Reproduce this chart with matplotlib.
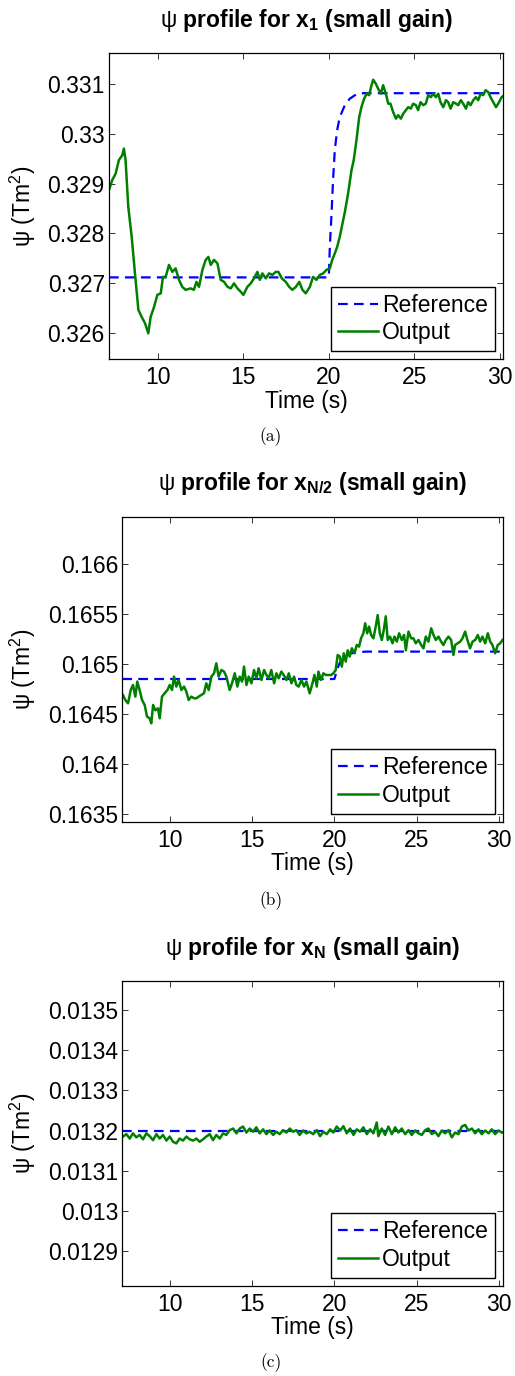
import matplotlib
matplotlib.use("Agg")
import matplotlib.pyplot as plt

plt.rcParams['font.family'] = ['Liberation Sans', 'DejaVu Sans']
plt.rcParams['mathtext.fontset'] = 'custom'
plt.rcParams['mathtext.rm'] = 'Liberation Sans'
plt.rcParams['mathtext.bf'] = 'Liberation Sans:bold'
plt.rcParams['mathtext.it'] = 'Liberation Sans:italic'
plt.rcParams['mathtext.default'] = 'rm'
plt.rcParams['lines.scale_dashes'] = False

# ---------------- data ----------------
xticks = [10, 15, 20, 25, 30]
xtick_labels = ["10", "15", "20", "25", "30"]

# panel (a): x_1
a_ref_t = [7.13, 20.0, 20.06, 20.16, 20.25, 20.35, 20.49, 20.64, 20.94, 21.23, 21.62, 22.01, 30.2]
a_ref_v = [0.32712, 0.32712, 0.32773, 0.3284, 0.32907, 0.32967, 0.33007, 0.33033, 0.33057, 0.3307,
           0.33079, 0.33081, 0.33081]
a_out_t = [7.13, 7.32, 7.52, 7.71, 7.91, 8.0, 8.1, 8.26, 8.46, 8.65,
           8.85, 9.04, 9.24, 9.43, 9.57, 9.77, 9.96, 10.16, 10.29, 10.45,
           10.64, 10.84, 11.03, 11.23, 11.42, 11.62, 11.91, 12.1, 12.25, 12.4,
           12.6, 12.79, 12.95, 13.09, 13.28, 13.48, 13.67, 13.87, 14.07, 14.26,
           14.45, 14.65, 14.85, 15.0, 15.23, 15.43, 15.62, 15.82, 15.96, 16.11,
           16.31, 16.5, 16.7, 16.89, 17.05, 17.25, 17.48, 17.68, 17.87, 18.07,
           18.27, 18.46, 18.65, 18.89, 19.08, 19.28, 19.47, 19.67, 19.86, 20.06,
           20.2, 20.35, 20.49, 20.64, 20.8, 20.94, 21.13, 21.33, 21.46, 21.62,
           21.78, 21.91, 22.07, 22.21, 22.36, 22.5, 22.6, 22.75, 22.89, 23.05,
           23.18, 23.34, 23.48, 23.61, 23.77, 23.93, 24.06, 24.22, 24.36, 24.51,
           24.65, 24.8, 24.94, 25.1, 25.23, 25.37, 25.53, 25.68, 25.82, 25.98,
           26.11, 26.27, 26.41, 26.54, 26.7, 26.86, 26.99, 27.13, 27.29, 27.45,
           27.58, 27.73, 27.87, 28.03, 28.16, 28.3, 28.46, 28.61, 28.75, 28.89,
           29.04, 29.18, 29.34, 29.47, 29.63, 29.79, 29.92, 30.12, 30.2]
a_out_v = [0.32887, 0.32907, 0.3292, 0.32947, 0.32957, 0.3297, 0.32947, 0.32853, 0.32793, 0.3272,
           0.32647, 0.32633, 0.3262, 0.326, 0.32633, 0.32653, 0.32677, 0.3268, 0.32713, 0.32713,
           0.32737, 0.32723, 0.3273, 0.32707, 0.32693, 0.32687, 0.3269, 0.32687, 0.32703, 0.32693,
           0.32727, 0.32747, 0.32753, 0.32737, 0.32747, 0.3274, 0.32707, 0.32703, 0.32693, 0.3269,
           0.327, 0.3269, 0.32683, 0.32677, 0.32693, 0.327, 0.3271, 0.32723, 0.32707, 0.3272,
           0.3271, 0.3272, 0.32717, 0.32723, 0.32723, 0.3271, 0.32703, 0.32693, 0.32687, 0.32693,
           0.32703, 0.32687, 0.3268, 0.32693, 0.32713, 0.32707, 0.32717, 0.3272, 0.32727, 0.3273,
           0.32747, 0.3276, 0.32773, 0.32793, 0.3282, 0.32843, 0.3288, 0.32927, 0.32947, 0.32987,
           0.33033, 0.33053, 0.3307, 0.3308, 0.33077, 0.33097, 0.33108, 0.331, 0.3309, 0.3308,
           0.33097, 0.3308, 0.3306, 0.3306, 0.33043, 0.3303, 0.33037, 0.3303, 0.3304, 0.33047,
           0.33053, 0.3305, 0.3306, 0.33057, 0.33047, 0.33063, 0.33057, 0.3306, 0.33077, 0.33073,
           0.3308, 0.33073, 0.3308, 0.33063, 0.33053, 0.33067, 0.33063, 0.3305, 0.33063, 0.3306,
           0.33057, 0.33067, 0.3306, 0.3305, 0.33063, 0.33057, 0.33067, 0.33073, 0.33067, 0.3308,
           0.33077, 0.33087, 0.33083, 0.33073, 0.33063, 0.33053, 0.3306, 0.33073, 0.33075]
a_yticks = [0.326, 0.327, 0.328, 0.329, 0.330, 0.331]
a_ytick_labels = ["0.326", "0.327", "0.328", "0.329", "0.33", "0.331"]

# panel (b): x_{N/2}
b_ref_t = [7.12, 20.0, 20.1, 20.2, 20.3, 20.45, 20.6, 20.8, 21.0, 21.3, 21.6, 22.0, 30.24]
b_ref_v = [0.164853, 0.164853, 0.164908, 0.164963, 0.165006, 0.165045, 0.165072, 0.165094,
           0.165108, 0.165119, 0.165124, 0.165127, 0.165127]
b_out_t = [7.16, 7.30, 7.47, 7.63, 7.77, 7.91, 8.03, 8.17, 8.32, 8.48,
           8.62, 8.78, 8.88, 8.99, 9.13, 9.29, 9.39, 9.53, 9.69, 9.86,
           10.0, 10.14, 10.26, 10.4, 10.54, 10.71, 10.87, 11.01, 11.15, 11.31,
           11.48, 11.62, 11.76, 11.92, 12.08, 12.22, 12.37, 12.53, 12.69, 12.83,
           12.97, 13.14, 13.3, 13.44, 13.64, 13.78, 13.95, 14.11, 14.25, 14.39,
           14.51, 14.66, 14.8, 14.96, 15.12, 15.26, 15.4, 15.57, 15.73, 15.87,
           16.01, 16.17, 16.34, 16.48, 16.62, 16.78, 16.92, 17.09, 17.23, 17.39,
           17.55, 17.69, 17.83, 18.0, 18.16, 18.3, 18.5, 18.64,
           18.79, 18.93, 19.03, 19.19, 19.33, 19.48, 19.64, 19.8, 19.94, 20.08,
           20.2, 20.33, 20.45, 20.57, 20.69, 20.81, 20.93, 21.06, 21.22, 21.36,
           21.5, 21.62, 21.76, 21.87, 21.99, 22.11, 22.23, 22.37, 22.51, 22.63,
           22.76, 22.88, 23.0, 23.12, 23.24, 23.38, 23.53, 23.65, 23.79, 23.93,
           24.09, 24.23, 24.34, 24.5, 24.66, 24.8, 24.94, 25.11, 25.27, 25.41,
           25.55, 25.71, 25.88, 26.02, 26.16, 26.32, 26.48, 26.62, 26.77, 26.93,
           27.09, 27.23, 27.33, 27.49, 27.64, 27.78, 27.94, 28.08, 28.24, 28.39,
           28.55, 28.71, 28.85, 28.99, 29.16, 29.32, 29.46, 29.6, 29.76, 29.92,
           30.07, 30.21]
b_out_v = [0.164693, 0.164643, 0.16461, 0.164743, 0.164793, 0.164677, 0.164827, 0.164743, 0.164643, 0.164593,
           0.164477, 0.16446, 0.16441, 0.164593, 0.16454, 0.16456, 0.16446, 0.164677, 0.16471, 0.164743,
           0.164793, 0.164743, 0.164877, 0.164777, 0.164843, 0.164743, 0.164777, 0.164727, 0.164643, 0.164677,
           0.16466, 0.16466, 0.164677, 0.164693, 0.16471, 0.16481, 0.164743, 0.164877, 0.16491, 0.16501,
           0.164877, 0.164943, 0.164927, 0.164877, 0.164743, 0.16481, 0.16491, 0.164777, 0.164877, 0.164827,
           0.164977, 0.164793, 0.164877, 0.16481, 0.164943, 0.16486, 0.16496, 0.164843, 0.164943, 0.164893,
           0.16486, 0.164943, 0.16481, 0.16491, 0.16486, 0.164927, 0.164893, 0.164843, 0.16491, 0.16481,
           0.164877, 0.164793, 0.164777, 0.164843, 0.164777, 0.164827, 0.16471, 0.164793,
           0.164893, 0.164777, 0.164927, 0.164843, 0.16491, 0.164893, 0.164893, 0.164893, 0.16491, 0.164943,
           0.165093, 0.165077, 0.164977, 0.16511, 0.165027, 0.16514, 0.165077, 0.16516, 0.16511, 0.165193,
           0.165177, 0.16526, 0.16531, 0.16541, 0.16531, 0.165377, 0.165293, 0.16526, 0.165377, 0.165493,
           0.16531, 0.165243, 0.165343, 0.16548, 0.165243, 0.165277, 0.16521, 0.165277, 0.165227, 0.16531,
           0.165243, 0.165293, 0.16514, 0.165327, 0.16526, 0.16526, 0.16521, 0.165243, 0.165193, 0.16516,
           0.165277, 0.165227, 0.16536, 0.165293, 0.165243, 0.165277, 0.165227, 0.165193, 0.165243, 0.165277,
           0.165243, 0.165093, 0.165193, 0.16521, 0.165227, 0.16526, 0.165327, 0.165243, 0.16516, 0.165227,
           0.165243, 0.165293, 0.165227, 0.165277, 0.16521, 0.16531, 0.165227, 0.165193, 0.16511, 0.165193,
           0.16521, 0.165243]
b_yticks = [0.1635, 0.164, 0.1645, 0.165, 0.1655, 0.166]
b_ytick_labels = ["0.1635", "0.164", "0.1645", "0.165", "0.1655", "0.166"]

# panel (c): x_N
c_ref_t = [7.12, 30.24]
c_ref_v = [0.0132, 0.0132]
c_out_t = [7.16, 7.37, 7.57, 7.77, 7.97, 8.17, 8.38, 8.58, 8.78, 8.99,
           9.19, 9.39, 9.59, 9.8, 10.0, 10.2, 10.4, 10.6, 10.81, 11.01,
           11.21, 11.42, 11.62, 11.82, 12.02, 12.22, 12.43, 12.63, 12.83, 13.04,
           13.24, 13.44, 13.64, 13.85, 14.05, 14.25, 14.45, 14.66, 14.86, 15.06,
           15.26, 15.46, 15.67, 15.87, 16.07, 16.28, 16.48, 16.68, 16.88, 17.09,
           17.29, 17.49, 17.69, 17.89, 18.1, 18.3, 18.5, 18.71,
           18.93, 19.13, 19.33, 19.54, 19.74, 19.94, 20.14, 20.35, 20.55, 20.75,
           20.95, 21.16, 21.36, 21.56, 21.76, 21.97, 22.17, 22.37, 22.57, 22.67,
           22.88, 23.08, 23.28, 23.49, 23.69, 23.89, 24.09, 24.3, 24.5, 24.7,
           24.9, 25.11, 25.31, 25.51, 25.71, 25.92, 26.12, 26.32, 26.52, 26.73,
           26.93, 27.13, 27.33, 27.54, 27.74, 27.94, 28.14, 28.35, 28.55, 28.75,
           28.95, 29.16, 29.36, 29.56, 29.76, 29.97, 30.17]
c_out_v = [0.013185, 0.013191, 0.01318, 0.013193, 0.013183, 0.013189, 0.013178, 0.013193, 0.013186, 0.013176,
           0.013191, 0.01318, 0.013189, 0.013175, 0.013185, 0.013172, 0.013168, 0.01318, 0.013175, 0.013185,
           0.013178, 0.013175, 0.01318, 0.013172, 0.013178, 0.013185, 0.013191, 0.013176, 0.013189, 0.01318,
           0.013193, 0.013189, 0.013201, 0.013205, 0.013193, 0.013205, 0.01321, 0.013195, 0.013205, 0.013197,
           0.013208, 0.013193, 0.013203, 0.013191, 0.0132, 0.013189, 0.013197, 0.013191, 0.013201, 0.013195,
           0.013205, 0.013197, 0.013201, 0.013189, 0.0132, 0.013193, 0.013197, 0.013191,
           0.013201, 0.013186, 0.013197, 0.013191, 0.013203, 0.013195, 0.01321, 0.0132, 0.013211, 0.013193,
           0.013205, 0.013189, 0.013203, 0.013197, 0.013208, 0.013191, 0.013203, 0.013193, 0.01322, 0.013186,
           0.013205, 0.013189, 0.01321, 0.013191, 0.013208, 0.013195, 0.013205, 0.013191, 0.013201, 0.013189,
           0.0132, 0.013193, 0.013189, 0.013201, 0.013205, 0.013191, 0.013197, 0.013186, 0.0132, 0.013193,
           0.013201, 0.013183, 0.013195, 0.013191, 0.01321, 0.013214, 0.0132, 0.013205, 0.013193, 0.013203,
           0.013191, 0.0132, 0.013193, 0.013203, 0.013191, 0.0132, 0.013195]
c_yticks = [0.0129, 0.0130, 0.0131, 0.0132, 0.0133, 0.0134, 0.0135]
c_ytick_labels = ["0.0129", "0.013", "0.0131", "0.0132", "0.0133", "0.0134", "0.0135"]

titles = [r"$\psi$ profile for x$_{\mathbf{1}}$ (small gain)",
          r"$\psi$ profile for x$_{\mathbf{N/2}}$ (small gain)",
          r"$\psi$ profile for x$_{\mathbf{N}}$ (small gain)"]
captions = ["(a)", "(b)", "(c)"]
legend_labels = ["Reference", "Output"]

# ---------------- layout ----------------
W, H = 515, 1376
fig = plt.figure(figsize=(W / 100, H / 100), dpi=100)

def px_axes(l, r, t, b):
    return fig.add_axes([l / W, 1 - b / H, (r - l) / W, (b - t) / H])

panels = [
    dict(box=(109, 503, 53, 359), xlim=(7.13, 30.2), ylim=(0.325485, 0.331615),
         ref=(a_ref_t, a_ref_v), out=(a_out_t, a_out_v), yt=a_yticks, ytl=a_ytick_labels,
         ylab_x=-0.180, cap_y=437),
    dict(box=(122.3, 503, 516.7, 821.7), xlim=(7.12, 30.24), ylim=(0.163426, 0.166476),
         ref=(b_ref_t, b_ref_v), out=(b_out_t, b_out_v), yt=b_yticks, ytl=b_ytick_labels,
         ylab_x=-0.221, cap_y=901),
    dict(box=(122.3, 503, 981, 1285.7), xlim=(7.12, 30.24), ylim=(0.012813, 0.013573),
         ref=(c_ref_t, c_ref_v), out=(c_out_t, c_out_v), yt=c_yticks, ytl=c_ytick_labels,
         ylab_x=-0.221, cap_y=1363),
]

FS = 16.5
for i, p in enumerate(panels):
    ax = px_axes(*p["box"])
    ax.plot(p["ref"][0], p["ref"][1], color=(0, 0, 1), lw=1.6, dashes=(7, 4.5),
            label=legend_labels[0])
    ax.plot(p["out"][0], p["out"][1], color=(0, 0.5, 0), lw=1.8, label=legend_labels[1])
    ax.set_xlim(*p["xlim"])
    ax.set_ylim(*p["ylim"])
    ax.set_xticks(xticks)
    ax.set_xticklabels(xtick_labels)
    ax.set_yticks(p["yt"])
    ax.set_yticklabels(p["ytl"])
    ax.tick_params(direction='in', top=True, right=True, length=4, width=0.7,
                   labelsize=FS, color='#333333')
    ax.tick_params(axis='x', pad=5)
    ax.tick_params(axis='y', pad=3)
    for s in ax.spines.values():
        s.set_linewidth(0.9)
    ax.set_title(titles[i], fontsize=FS, fontweight='bold', pad=19)
    ax.set_xlabel("Time (s)", fontsize=FS)
    ax.xaxis.set_label_coords(0.5, -0.100)
    ax.set_ylabel(r"$\psi$ (Tm$^2$)", fontsize=FS)
    ax.yaxis.set_label_coords(p["ylab_x"], 0.5)
    leg = ax.legend(loc='lower right', fontsize=FS, frameon=True, fancybox=False,
                    edgecolor='black', framealpha=1, handlelength=1.75,
                    handletextpad=0.2, borderpad=0.3, labelspacing=0.2,
                    borderaxespad=0.35)
    leg.get_frame().set_linewidth(1.0)
    fig.text(271 / W, 1 - p["cap_y"] / H, captions[i], fontsize=12.5,
             family='cmr10', ha='center', va='center')

fig.savefig("out.png", dpi=100)
